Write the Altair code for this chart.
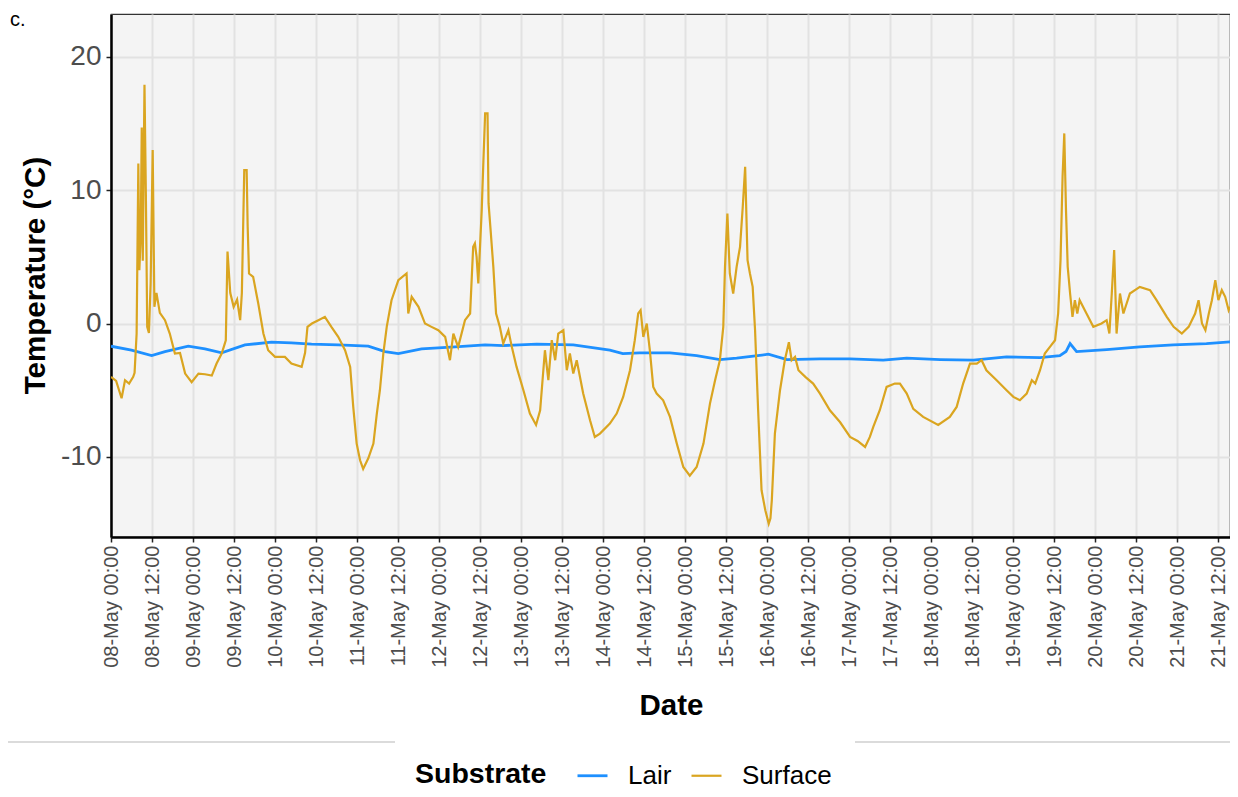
import altair as alt
import pandas as pd

# ---- data (hours after 08-May 00:00, temperature in °C)
surface_hours = [0.0, 1.5, 3.1, 4.1, 5.3, 6.5, 6.9, 7.5, 8.0, 8.3, 8.7, 9.0, 9.3, 9.8, 10.2, 10.6, 11.1, 11.6,
                 12.2, 12.7, 13.3, 14.3, 15.8, 17.2, 18.7, 20.2, 21.7, 23.6, 25.6, 27.5, 29.5, 30.9, 32.4, 33.6,
                 34.1, 34.9, 35.9, 36.9, 37.8, 38.3, 39.0, 39.7, 40.0, 40.4, 41.6, 43.1, 44.6, 46.0, 48.0, 50.9,
                 52.8, 55.8, 56.8, 57.5, 58.8, 60.7, 62.6, 64.5, 66.5, 68.5, 70.0, 70.9, 71.9, 72.9, 73.8, 75.3,
                 76.8, 77.8, 78.7, 79.7, 80.7, 82.1, 84.1, 86.5, 87.0, 88.0, 90.0, 91.9, 93.8, 95.8, 97.8, 99.2,
                 100.2, 101.6, 103.6, 105.1, 106.0, 106.5, 107.0, 107.5, 108.5, 109.0, 109.5, 110.2, 110.5, 111.1,
                 111.9, 112.7, 113.8, 114.8, 116.3, 117.3, 118.7, 120.7, 122.6, 124.4, 125.6, 127.0, 128.0, 129.0,
                 130.0, 130.9, 132.4, 133.4, 134.3, 135.3, 136.3, 138.2, 140.2, 141.6, 143.1, 146.0, 148.0, 149.9,
                 151.9, 153.3, 154.3, 155.0, 155.8, 156.8, 157.7, 158.7, 159.7, 161.6, 163.6, 165.6, 167.5, 169.4,
                 171.4, 173.4, 175.3, 176.8, 178.2, 179.2, 179.7, 180.4, 181.1, 182.1, 183.1, 184.1, 184.9, 185.6,
                 186.3, 187.0, 187.8, 188.5, 189.4, 190.4, 191.5, 192.5, 193.0, 193.4, 194.3, 195.8, 197.2, 198.4,
                 199.2, 200.2, 201.2, 203.2, 205.5, 207.5, 210.4, 213.4, 216.3, 218.5, 220.7, 222.1, 223.1, 225.0,
                 227.0, 229.4, 230.9, 232.9, 234.8, 237.7, 242.1, 245.5, 247.5, 249.4, 251.4, 253.4, 254.8, 256.2,
                 259.2, 262.1, 264.1, 266.0, 268.0, 269.5, 270.5, 271.9, 273.3, 274.8, 276.3, 277.2, 277.9, 278.5,
                 279.0, 279.5, 280.0, 280.7, 281.4, 282.1, 282.8, 283.5, 285.5, 287.5, 289.9, 291.4, 292.2, 292.9,
                 293.6, 294.3, 295.3, 296.3, 298.2, 301.1, 304.1, 306.0, 309.0, 311.0, 313.4, 315.4, 317.3, 318.3,
                 319.3, 320.3, 321.3, 322.2, 323.2, 324.1, 325.1, 326.1, 327.1, 327.5]
surface_temp = [-4.0, -4.3, -5.6, -4.25, -4.5, -4.0, -3.7, -0.75, 12.0, 4.0, 6.5, 14.7, 4.7, 17.9, 9.8, -0.25, -0.7, 3.0,
                13.0, 1.25, 2.3, 0.8, 0.25, -0.75, -2.25, -2.2, -3.75, -4.4, -3.75, -3.8, -3.9, -3.0, -2.25, -1.25,
                5.4, 2.3, 1.25, 1.8, 0.25, 2.3, 11.5, 11.5, 7.25, 3.75, 3.5, 1.5, -0.75, -2.0, -2.5, -2.5,
                -3.0, -3.25, -2.2, -0.25, 0.0, 0.25, 0.5, -0.25, -1.0, -2.0, -3.25, -6.25, -9.0, -10.25, -10.9, -10.1,
                -9.0, -6.75, -5.0, -2.25, -0.25, 1.75, 3.25, 3.75, 0.75, 2.0, 1.25, 0.0, -0.25, -0.5, -1.0, -2.75,
                -0.75, -1.75, 0.25, 0.75, 5.75, 6.0, 5.0, 3.0, 8.5, 12.25, 15.75, 15.75, 9.0, 7.0,
                4.25, 0.75, -0.25, -1.5, -0.5, -1.75, -3.25, -5.0, -6.75, -7.6, -6.5, -2.0, -4.25, -1.25,
                -2.75, -0.75, -0.5, -3.5, -2.25, -3.75, -2.75, -5.25, -7.25, -8.5, -8.25, -7.5, -6.75, -5.5,
                -3.5, -1.25, 0.75, 1.0, -1.0, 0.0, -2.0, -4.75, -5.25, -5.75, -7.0, -9.0, -10.75, -11.4,
                -10.75, -9.0, -6.0, -4.25, -2.75, -0.25, 4.25, 8.25, 3.75, 2.25, 4.25, 5.75, 8.75, 11.75,
                4.75, 3.75, 2.75, -0.5, -6.5, -12.5, -14.0, -15.0, -14.6, -13.25, -8.25, -5.0, -2.75, -1.4,
                -2.75, -2.5, -3.5, -4.0, -4.5, -5.25, -6.5, -7.4, -8.5, -8.8, -9.25, -8.5, -7.75, -6.5,
                -4.75, -4.5, -4.5, -5.25, -6.4, -7.0, -7.6, -7.0, -6.25, -4.5, -3.0, -3.0, -2.75, -3.5,
                -4.25, -5.0, -5.5, -5.75, -5.25, -4.25, -4.5, -3.5, -2.25, -1.75, -1.25, 0.75, 4.75, 11.0,
                14.25, 8.5, 4.25, 2.25, 0.5, 1.75, 0.75, 1.75, 0.75, -0.25, 0.0, 0.25, -0.75, 2.25,
                5.5, -0.75, 2.25, 0.75, 2.25, 2.75, 2.5, 1.75, 0.5, -0.25, -0.75, -0.25, 0.75, 1.75,
                0.0, -0.5, 0.75, 1.75, 3.25, 1.75, 2.5, 2.0, 1.0, 1.25]

lair_hours = [0.0, 6.0, 11.9, 15.8, 22.6, 27.5, 32.4, 39.2, 47.0, 52.8, 58.7, 66.5, 75.3, 80.2, 84.1, 90.9,
              100.7, 109.5, 114.8, 124.6, 135.3, 146.0, 149.8, 154.7, 163.6, 171.4, 178.2, 183.1, 188.0, 192.4,
              197.8, 207.5, 216.3, 226.0, 232.9, 242.7, 252.4, 262.1, 271.9, 277.7, 279.5, 280.7, 282.6, 291.4,
              301.1, 310.9, 320.6, 327.5]
lair_temp = [-1.7, -2.0, -2.4, -2.1, -1.7, -1.9, -2.2, -1.6, -1.4, -1.45, -1.55, -1.6, -1.7, -2.1, -2.25, -1.9,
             -1.75, -1.6, -1.65, -1.55, -1.6, -2.0, -2.25, -2.2, -2.2, -2.4, -2.7, -2.6, -2.45, -2.3,
             -2.7, -2.65, -2.65, -2.75, -2.6, -2.7, -2.75, -2.5, -2.55, -2.4, -2.1, -1.5, -2.1, -1.95,
             -1.75, -1.6, -1.5, -1.38]

series_names = ["Lair", "Surface"]
series_colors = ["#1E90FF", "#DAA520"]
y_ticks = [-10, 0, 10, 20]

start = pd.Timestamp("2019-05-08 00:00")


def to_iso(hours):
    return [(start + pd.Timedelta(hours=h)).strftime("%Y-%m-%dT%H:%M:%SZ") for h in hours]


df = pd.concat([
    pd.DataFrame({"Date": to_iso(lair_hours), "Temp": lair_temp, "Substrate": "Lair"}),
    pd.DataFrame({"Date": to_iso(surface_hours), "Temp": surface_temp, "Substrate": "Surface"}),
], ignore_index=True)

x_ticks = [alt.DateTime(year=2019, month=5, date=8 + i // 2, hours=12 * (i % 2), utc=True) for i in range(28)]
x_domain = [alt.DateTime(year=2019, month=5, date=8, hours=0, utc=True),
            alt.DateTime(year=2019, month=5, date=21, hours=15, minutes=30, utc=True)]

FONT = "Liberation Sans"

lines = alt.Chart(df).mark_line(clip=True).encode(
    x=alt.X("Date:T",
            scale=alt.Scale(type="utc", domain=x_domain, nice=False),
            axis=alt.Axis(values=x_ticks, format="%d-%b %H:%M", labelAngle=-90,
                          labelFontSize=20, labelColor="#4D4D4D", labelPadding=3,
                          tickSize=5, tickColor="#222222", tickWidth=1.5,
                          domainColor="#000000", domainWidth=2.5,
                          grid=True, gridColor="#E2E2E2", gridWidth=2,
                          title="Date", titleFontSize=29.5, titleFontWeight="bold", titleColor="#000000",
                          titleX=560, titleY=168, titleBaseline="middle", titleAlign="center")),
    y=alt.Y("Temp:Q",
            scale=alt.Scale(domain=[-16, 23.2], nice=False, zero=False),
            axis=alt.Axis(values=y_ticks, labelExpr="'' + datum.value",
                          labelFontSize=28, labelColor="#4D4D4D", labelPadding=5,
                          tickSize=5, tickColor="#222222", tickWidth=1.5,
                          domainColor="#000000", domainWidth=2.5,
                          grid=True, gridColor="#E2E2E2", gridWidth=2,
                          title="Temperature (°C)", titleFontSize=29.5, titleFontWeight="bold",
                          titleColor="#000000", titleX=-76, titleY=261, titleAngle=-90,
                          titleAlign="center", titleBaseline="middle")),
    color=alt.Color("Substrate:N",
                    scale=alt.Scale(domain=series_names, range=series_colors),
                    legend=alt.Legend(orient="none", legendX=304, legendY=745, direction="horizontal",
                                      titleOrient="left", title="Substrate",
                                      titleFontSize=28.5, titleFontWeight="bold", titleColor="#000000",
                                      titlePadding=29, labelFontSize=26, labelColor="#000000",
                                      labelOffset=19, columnPadding=15, symbolType="stroke",
                                      symbolStrokeWidth=2.5, symbolSize=900)),
    strokeWidth=alt.StrokeWidth("Substrate:N", scale=alt.Scale(domain=series_names, range=[2.8, 2.2]),
                                legend=None),
)

panel_tag = alt.Chart(pd.DataFrame({"t": ["c."]})).mark_text(
    align="left", baseline="middle", fontSize=20, font=FONT, color="#000000"
).encode(text="t:N", x=alt.value(-101), y=alt.value(6))

rule_left = alt.Chart(pd.DataFrame({"a": [0]})).mark_rule(color="#CFCFCF", strokeWidth=1.5).encode(
    x=alt.value(-103), x2=alt.value(284), y=alt.value(728))
rule_right = alt.Chart(pd.DataFrame({"a": [0]})).mark_rule(color="#CFCFCF", strokeWidth=1.5).encode(
    x=alt.value(744), x2=alt.value(1119), y=alt.value(728))

chart = alt.layer(lines, panel_tag, rule_left, rule_right).properties(
    width=1119, height=523,
    autosize=alt.AutoSizeParams(type="none"),
    padding={"left": 103, "top": 6, "right": 0, "bottom": 252},
).configure(font=FONT).configure_view(
    fill="#F4F4F4", stroke="#333333", strokeWidth=1.2
)

chart.save("out.html", embed_options={"renderer": "svg", "actions": False})
